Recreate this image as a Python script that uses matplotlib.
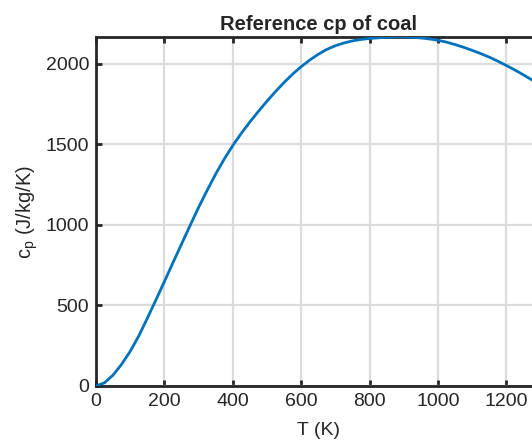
import matplotlib
matplotlib.use("Agg")
import matplotlib.pyplot as plt

T = [0, 25, 50, 75, 100, 125, 150, 175, 200, 225, 250, 275, 300, 325, 350,
     375, 400, 425, 450, 475, 500, 525, 550, 575, 600, 625, 650, 675, 700,
     725, 750, 775, 800, 825, 850, 875, 900, 925, 950, 975, 1000, 1025, 1050,
     1075, 1100, 1125, 1150, 1175, 1200, 1225, 1250, 1275, 1300]
cp = [0, 20, 68, 135, 215, 310, 420, 533, 648, 765, 880, 995, 1108, 1214,
      1315, 1408, 1492, 1568, 1638, 1704, 1767, 1827, 1883, 1935, 1981, 2022,
      2058, 2088, 2111, 2128, 2141, 2150, 2156, 2160, 2163, 2165, 2165, 2163,
      2159, 2153, 2145, 2133, 2118, 2101, 2082, 2062, 2040, 2015, 1988, 1960,
      1930, 1898, 1865]
xticks = [0, 200, 400, 600, 800, 1000, 1200]
yticks = [0, 500, 1000, 1500, 2000]

plt.rcParams['font.family'] = ['Liberation Sans', 'DejaVu Sans']
dark = '#262626'

fig = plt.figure(figsize=(5.32, 4.42), dpi=100)
ax = fig.add_axes([96/532, 56/442, 444.6/532, 349/442])
ax.plot(T, cp, color='#0072BD', lw=2.0, solid_capstyle='round', zorder=3)
ax.set_xlim(0, 1300)
ax.set_ylim(0, 2165)
ax.set_xticks(xticks)
ax.set_yticks(yticks)
ax.grid(True, color='#dcdcdc', lw=1.6)
ax.set_axisbelow(True)
for s in ax.spines.values():
    s.set_color(dark)
    s.set_linewidth(2.0)
ax.tick_params(direction='in', length=4, width=2.0, color=dark,
               labelcolor=dark, labelsize=14, top=True, right=True, pad=5)
ax.set_title('Reference cp of coal', fontsize=14.5, fontweight='bold',
             color=dark, pad=5)
ax.set_xlabel('T (K)', fontsize=14, color=dark, labelpad=9)
ax.set_ylabel(r'c$_\mathregular{p}$ (J/kg/K)', fontsize=14.5, color=dark,
              labelpad=4)
fig.savefig('out.png', dpi=100)
